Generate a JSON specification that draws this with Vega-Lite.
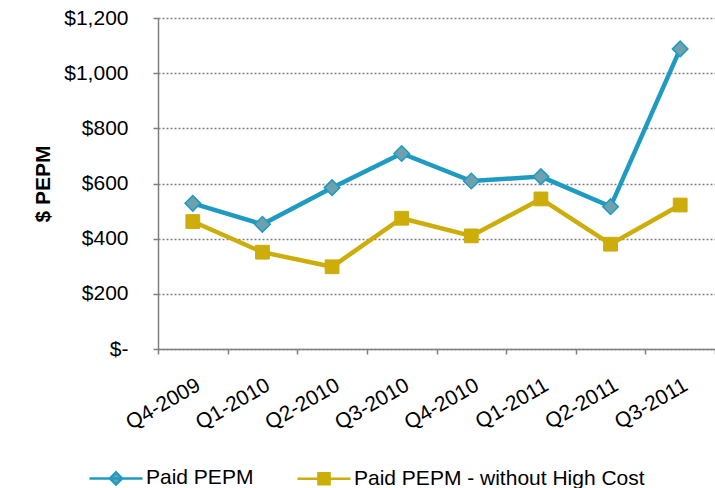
{
  "$schema": "https://vega.github.io/schema/vega-lite/v6.json",
  "width": 557,
  "height": 331,
  "autosize": {"type": "none"},
  "padding": {"left": 158, "top": 18, "right": 0, "bottom": 139},
  "background": "white",
  "config": {"view": {"stroke": null}, "font": "Liberation Sans"},
  "data": {
    "values": [
      {"quarter": "Q4-2009", "series": "Paid PEPM", "value": 528},
      {"quarter": "Q1-2010", "series": "Paid PEPM", "value": 452},
      {"quarter": "Q2-2010", "series": "Paid PEPM", "value": 585},
      {"quarter": "Q3-2010", "series": "Paid PEPM", "value": 709},
      {"quarter": "Q4-2010", "series": "Paid PEPM", "value": 609},
      {"quarter": "Q1-2011", "series": "Paid PEPM", "value": 625},
      {"quarter": "Q2-2011", "series": "Paid PEPM", "value": 516},
      {"quarter": "Q3-2011", "series": "Paid PEPM", "value": 1088},
      {"quarter": "Q4-2009", "series": "Paid PEPM - without High Cost", "value": 462},
      {"quarter": "Q1-2010", "series": "Paid PEPM - without High Cost", "value": 351},
      {"quarter": "Q2-2010", "series": "Paid PEPM - without High Cost", "value": 298},
      {"quarter": "Q3-2010", "series": "Paid PEPM - without High Cost", "value": 474},
      {"quarter": "Q4-2010", "series": "Paid PEPM - without High Cost", "value": 410},
      {"quarter": "Q1-2011", "series": "Paid PEPM - without High Cost", "value": 544},
      {"quarter": "Q2-2011", "series": "Paid PEPM - without High Cost", "value": 380},
      {"quarter": "Q3-2011", "series": "Paid PEPM - without High Cost", "value": 522}
    ]
  },
  "encoding": {
    "x": {
      "field": "quarter",
      "type": "nominal",
      "sort": null,
      "scale": {"type": "band", "paddingInner": 0, "paddingOuter": 0},
      "axis": {
        "title": null,
        "labelAngle": -30,
        "labelFontSize": 21,
        "labelColor": "#000000",
        "labelPadding": 20,
        "tickBand": "extent",
        "tickSize": 5,
        "tickColor": "#7f7f7f",
        "tickWidth": 1.5,
        "domainColor": "#7f7f7f",
        "domainWidth": 1.5,
        "grid": false
      }
    },
    "y": {
      "field": "value",
      "type": "quantitative",
      "scale": {"domain": [0, 1200]},
      "axis": {
        "title": "$ PEPM",
        "titleFontSize": 21,
        "titleFontWeight": "bold",
        "titleColor": "#000000",
        "titlePadding": 10,
        "values": [0, 200, 400, 600, 800, 1000, 1200],
        "labelExpr": "datum.value == 0 ? '$-' : '$' + format(datum.value, ',')",
        "labelFontSize": 21,
        "labelColor": "#000000",
        "labelPadding": 25,
        "tickSize": 5,
        "tickColor": "#7f7f7f",
        "tickWidth": 1.5,
        "domainColor": "#7f7f7f",
        "domainWidth": 1.5,
        "grid": true,
        "gridColor": "#808080",
        "gridDash": [2, 2],
        "gridWidth": 1.3,
        "encode": {
          "labels": {
            "update": {
              "dx": {"signal": "datum.value == 0 ? -11 : 0"}
            }
          }
        }
      }
    }
  },
  "layer": [
    {
      "mark": {"type": "line", "strokeWidth": 4.5},
      "encoding": {
        "color": {
          "field": "series",
          "type": "nominal",
          "scale": {
            "domain": ["Paid PEPM", "Paid PEPM - without High Cost"],
            "range": ["#1f9bc2", "#ccad0a"]
          },
          "legend": {
            "title": null,
            "orient": "none",
            "legendX": -70,
            "legendY": 432,
            "direction": "horizontal",
            "padding": 0,
            "labelFontSize": 21,
            "labelColor": "#000000",
            "labelOffset": 2,
            "columnPadding": 38,
            "symbolSize": 2809,
            "symbolStrokeWidth": 2.5,
            "labelLimit": 400,
            "encode": {
              "symbols": {
                "update": {
                  "shape": {"signal": "datum.value == 'Paid PEPM' ? 'M-1,0L1,0M0,-0.23L0.23,0L0,0.23L-0.23,0Z' : 'M-1,0L1,0M-0.21,-0.21L0.21,-0.21L0.21,0.21L-0.21,0.21Z'"},
                  "fill": {"signal": "datum.value == 'Paid PEPM' ? '#6fa0ad' : '#ccad0a'"},
                  "stroke": {"signal": "datum.value == 'Paid PEPM' ? '#1f9bc2' : '#ccad0a'"},
                  "strokeWidth": {"value": 2.5},
                  "opacity": {"value": 1}
                }
              }
            }
          }
        }
      }
    },
    {
      "transform": [{"filter": "datum.series == 'Paid PEPM'"}],
      "mark": {"type": "point", "shape": "diamond", "filled": true, "fill": "#6fa0ad", "stroke": "#1f9bc2", "strokeWidth": 1.5, "opacity": 1, "size": 240}
    },
    {
      "transform": [{"filter": "datum.series == 'Paid PEPM - without High Cost'"}],
      "mark": {"type": "point", "shape": "square", "filled": true, "fill": "#ccad0a", "stroke": "#ccad0a", "strokeWidth": 1, "opacity": 1, "size": 190}
    }
  ]
}
